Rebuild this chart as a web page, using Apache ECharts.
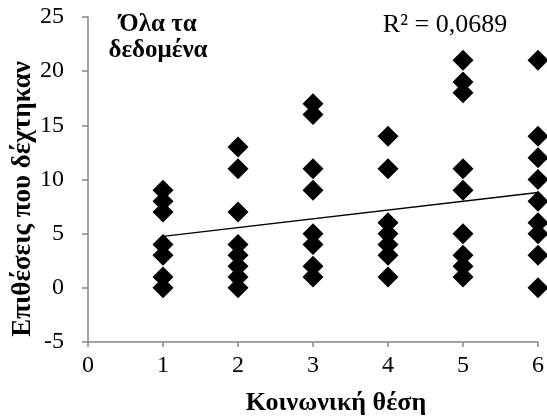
<!DOCTYPE html>
<html>
<head>
<meta charset="utf-8">
<script src="https://cdn.jsdelivr.net/npm/echarts@6/dist/echarts.min.js"></script>
<style>
  html, body { margin: 0; padding: 0; background: #fff; }
  #chart { width: 547px; height: 419px; }
</style>
</head>
<body>
<div id="chart"></div>
<script>
// Social position (x) and attacks received (y), grouped by position
const positions = [1, 2, 3, 4, 5, 6];
const attacksAt1 = [0, 1, 3, 4, 7, 8, 9];
const attacksAt2 = [0, 1, 2, 3, 4, 7, 11, 13];
const attacksAt3 = [1, 2, 4, 5, 9, 11, 16, 17];
const attacksAt4 = [1, 3, 4, 5, 6, 11, 14];
const attacksAt5 = [1, 2, 3, 5, 9, 11, 18, 19, 21];
const attacksAt6 = [0, 3, 5, 6, 8, 10, 12, 14, 21];

// Linear trend line endpoints
const trendX = [1, 6];
const trendY = [4.75, 8.8];
const rSquaredLabel = 'R² = 0,0689';

const xTicks = [0, 1, 2, 3, 4, 5, 6];
const yTicks = [-5, 0, 5, 10, 15, 20, 25];

const xTitle = 'Κοινωνική θέση';
const yTitle = 'Επιθέσεις που δέχτηκαν';
const panelTitle = 'Όλα τα\nδεδομένα';

const groups = [attacksAt1, attacksAt2, attacksAt3, attacksAt4, attacksAt5, attacksAt6];
const points = [];
groups.forEach((vals, i) => vals.forEach(v => points.push([positions[i], v])));
const trendData = trendX.map((x, i) => [x, trendY[i]]);

const serif = 'Liberation Serif';
const axisGray = '#868686';

function textStyle(text, size, weight, extra) {
  return Object.assign({
    text: text, fill: '#000',
    fontFamily: serif, fontSize: size, fontWeight: weight, fontStyle: 'normal',
    align: 'center', verticalAlign: 'middle'
  }, extra || {});
}

const chart = echarts.init(document.getElementById('chart'));
chart.setOption({
  animation: false,
  backgroundColor: '#fff',
  grid: { left: 88, right: 7, top: 17, bottom: 77, containLabel: false },
  graphic: [
    { type: 'text', x: 158, y: 38, style: textStyle(panelTitle, 25, 'bold', { lineHeight: 26 }) },
    { type: 'text', x: 445, y: 25, style: textStyle(rSquaredLabel, 26, 'normal') },
    { type: 'text', x: 336, y: 403, style: textStyle(xTitle, 26, 'bold') },
    { type: 'text', x: 23, y: 199, rotation: Math.PI / 2, style: textStyle(yTitle, 27, 'bold') }
  ],
  xAxis: {
    type: 'value',
    min: xTicks[0], max: xTicks[xTicks.length - 1], interval: 1,
    axisLine: { onZero: false, lineStyle: { color: axisGray, width: 1.5 } },
    axisTick: { show: true, length: 5, lineStyle: { color: axisGray, width: 1.5 } },
    axisLabel: { fontFamily: serif, fontSize: 24, color: '#000', margin: 12 },
    splitLine: { show: false }
  },
  yAxis: {
    type: 'value',
    min: yTicks[0], max: yTicks[yTicks.length - 1], interval: 5,
    axisLine: { show: true, lineStyle: { color: axisGray, width: 1.5 } },
    axisTick: { show: true, length: 6, lineStyle: { color: axisGray, width: 1.5 } },
    axisLabel: { fontFamily: serif, fontSize: 24, color: '#000', margin: 24 },
    splitLine: { show: false }
  },
  series: [
    {
      type: 'scatter',
      data: points,
      symbol: 'diamond',
      symbolSize: [21, 21],
      itemStyle: { color: '#000', opacity: 1 },
      z: 3
    },
    {
      type: 'line',
      data: trendData,
      symbol: 'none',
      lineStyle: { color: '#000', width: 1.5 },
      z: 4
    }
  ]
});
</script>
</body>
</html>
